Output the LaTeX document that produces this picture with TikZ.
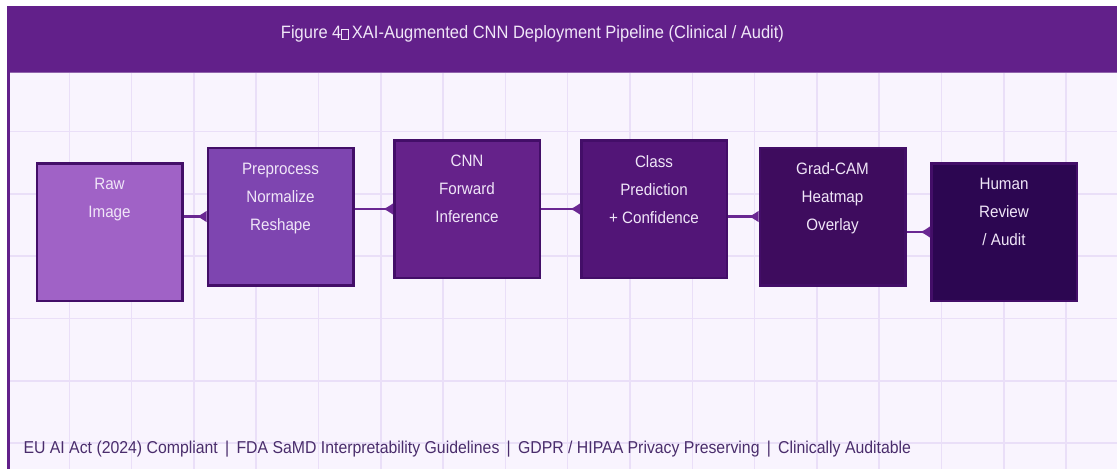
\documentclass[tikz,border=0pt]{standalone}
\usepackage{fontspec}
\setmainfont{Liberation Sans}[FakeStretch=0.92]
\usetikzlibrary{arrows.meta,positioning}

\definecolor{headbar}{HTML}{62208A}
\definecolor{canvas}{HTML}{F9F4FE}
\definecolor{gridline}{HTML}{EADFF8}
\definecolor{stageedge}{HTML}{430E68}
\definecolor{flowline}{HTML}{6A2792}
\definecolor{stagefont}{HTML}{F0E6F8}
\definecolor{footfont}{HTML}{4A2D6C}
\definecolor{sone}{HTML}{A062C6}
\definecolor{stwo}{HTML}{7E45B0}
\definecolor{sthree}{HTML}{65228A}
\definecolor{sfour}{HTML}{521577}
\definecolor{sfive}{HTML}{3E0C5E}
\definecolor{ssix}{HTML}{2C0651}

% glyph box printed where the title separator was lost
\newcommand{\lostglyph}{{\setlength{\fboxsep}{0pt}\setlength{\fboxrule}{0.8pt}\fbox{\rule{0pt}{9pt}\hspace{6pt}}}}

\tikzset{
  stage/.style={draw=stageedge, line width=2.5pt, minimum width=145.5pt, minimum height=137.5pt, inner sep=0pt},
  stagetext/.style={anchor=north, align=center, text=stagefont, inner sep=0pt, font=\fontsize{16.5}{28}\selectfont},
  flow/.style={draw=flowline, line width=2.5pt, -{Latex[reversed,length=10pt,width=12pt]}},
}

\begin{document}
\begin{tikzpicture}[x=1pt,y=-1pt]
  \useasboundingbox (0,0) rectangle (1117,469);
  % frame, header and grid
  \fill[canvas] (7,72) rectangle (1117,469);
  \foreach \i in {1,...,17}{\draw[gridline, line width=1.5pt] (7+62.3*\i,72) -- (7+62.3*\i,469);}
  \foreach \j in {2,...,7}{\draw[gridline, line width=1.5pt] (7,7+62.3*\j) -- (1117,7+62.3*\j);}
  \fill[headbar] (7,6) rectangle (1117,72);
  \draw[headbar!70!white, line width=1pt] (7,72) -- (1117,72);
  \draw[headbar, line width=3pt] (8.5,72) -- (8.5,469);
  \node[text=stagefont, font=\fontsize{17.9}{20}\selectfont] (title) at (532.5,34)
    {Figure 4\lostglyph\,XAI-Augmented CNN Deployment Pipeline (Clinical / Audit)};

  % pipeline stages
  \node[stage, fill=sone]   (raw)   at (109.5,232) {};
  \node[stage, fill=stwo]   (prep)  at (280.5,216.5) {};
  \node[stage, fill=sthree] (cnn)   at (467,209) {};
  \node[stage, fill=sfour]  (cls)   at (654,209) {};
  \node[stage, fill=sfive]  (cam)   at (832.5,216.5) {};
  \node[stage, fill=ssix]   (human) at (1004,232) {};

  \node[stagetext, below=16pt of raw.north]   (rawtxt)   {Raw\\Image};
  \node[stagetext, below=16pt of prep.north]  (preptxt)  {Preprocess\\Normalize\\Reshape};
  \node[stagetext, below=16pt of cnn.north]   (cnntxt)   {CNN\\Forward\\Inference};
  \node[stagetext, below=16pt of cls.north]   (clstxt)   {Class\\Prediction\\+ Confidence};
  \node[stagetext, below=16pt of cam.north]   (camtxt)   {Grad-CAM\\Heatmap\\Overlay};
  \node[stagetext, below=16pt of human.north] (humantxt) {Human\\Review\\/ Audit};

  % connectors, level with the stage they enter
  \foreach \a/\b in {raw/prep,prep/cnn,cnn/cls,cls/cam,cam/human}{
    \draw[flow] (\a.east |- \b.west) -- (\b.west);}

  \node[anchor=west, text=footfont, font=\fontsize{17.2}{19}\selectfont] (footer) at (20,449)
    {EU AI Act (2024) Compliant \,|\, FDA SaMD Interpretability Guidelines \,|\, GDPR / HIPAA Privacy Preserving \,|\, Clinically Auditable};
\end{tikzpicture}
\end{document}
